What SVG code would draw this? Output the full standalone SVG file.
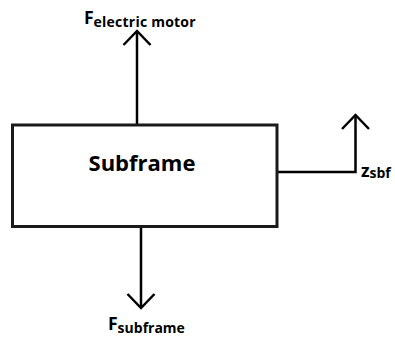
<svg xmlns="http://www.w3.org/2000/svg" width="395" height="340" viewBox="0 0 395 340">
<style>
.ln{stroke:#000;stroke-width:2.5;fill:none}
.box{stroke:#1a1a1a;stroke-width:3;fill:#fff}
text{font-family:"Open Sans","Noto Sans",sans-serif;font-weight:bold;fill:#000}
.big{font-size:17.5px}
.sub{font-size:14px}
</style>
<g id="connectors">
<line class="ln" x1="137" y1="124" x2="137" y2="31"/>
<polyline class="ln" points="123.5,45 137,31 150.5,45"/>
<line class="ln" x1="141" y1="227" x2="141" y2="308"/>
<polyline class="ln" points="127.5,294 141,308 154.5,294"/>
<polyline class="ln" points="277,172 355.5,172 355.5,115"/>
<polyline class="ln" points="342,129 355.5,115 369,129"/>
</g>
<g id="subframe">
<rect class="box" x="12.5" y="125" width="264.5" height="101.5"/>
<text x="142" y="170.5" text-anchor="middle" style="font-size:22px">Subframe</text>
</g>
<g id="label-motor">
<text x="84" y="24" class="big">F<tspan class="sub" dy="3" textLength="102">electric motor</tspan></text>
</g>
<g id="label-subframe">
<text x="108" y="330" class="big">F<tspan class="sub" dy="3">subframe</tspan></text>
</g>
<g id="label-z">
<text x="361" y="177" class="big">z<tspan class="sub" dy="1">sbf</tspan></text>
</g>
</svg>
